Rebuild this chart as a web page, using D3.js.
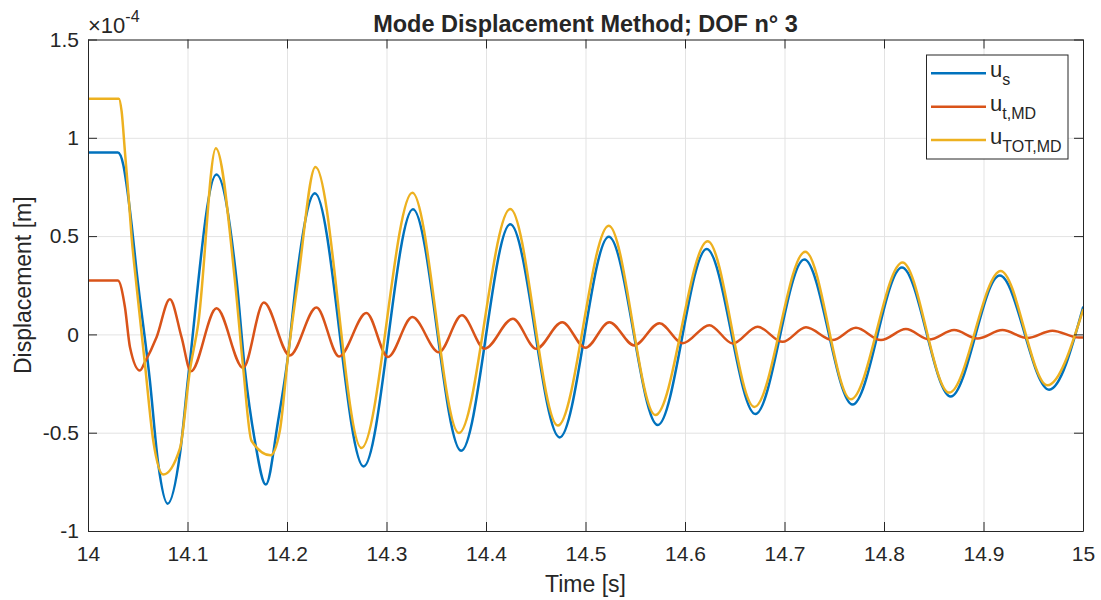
<!DOCTYPE html>
<html><head><meta charset="utf-8">
<script src="https://cdn.jsdelivr.net/npm/d3@7"></script>
<style>
body{margin:0;background:#fff}
text{font-family:"Liberation Sans",Arial,Helvetica,sans-serif;fill:#262626}
</style>
</head><body>
<svg id="chart" width="1101" height="600"></svg>
<script>
// ---- data (values in units of 1e-4 m) ----
const xTicks = [14, 14.1, 14.2, 14.3, 14.4, 14.5, 14.6, 14.7, 14.8, 14.9, 15];
const xTickLabels = ["14","14.1","14.2","14.3","14.4","14.5","14.6","14.7","14.8","14.9","15"];
const yTicks = [-1, -0.5, 0, 0.5, 1, 1.5];
const yTickLabels = ["-1","-0.5","0","0.5","1","1.5"];

const seriesBase = ["u","u","u"];
const seriesSub = ["s","t,MD","TOT,MD"];
const seriesColors = ["#0072BD","#D95319","#EDB120"];

const tS = [14.000,14.030,14.0355,14.0388,14.0439,14.0489,14.0622,14.0706,14.0800,14.0924,14.1007,14.1290,14.1493,14.1576,14.1677,14.1787,14.1911,14.2011,14.2094,14.2280,14.2770,14.3266,14.3750,14.4244,14.4740,14.5234,14.5726,14.6218,14.6707,14.7199,14.7684,14.8180,14.8670,14.9163,14.9659,15.000];
const uS = [0.925,0.925,0.862,0.760,0.556,0.318,-0.235,-0.660,-0.861,-0.609,-0.218,0.813,0.276,-0.175,-0.541,-0.764,-0.439,-0.107,0.276,0.718,-0.672,0.636,-0.592,0.560,-0.524,0.497,-0.461,0.434,-0.405,0.381,-0.357,0.340,-0.316,0.299,-0.281,0.137];

const tT = [14.000,14.030,14.0371,14.0422,14.0522,14.0572,14.0690,14.0823,14.0940,14.1034,14.1292,14.1559,14.1767,14.2028,14.2296,14.2523,14.2798,14.3015,14.3260,14.3527,14.3758,14.3986,14.4270,14.4505,14.4766,14.5000,14.5240,14.5490,14.5743,14.5977,14.6245,14.6479,14.6730,14.6981,14.7216,14.7483,14.7718,14.7969,14.8220,14.8454,14.8705,14.8939,14.9190,14.9441,14.9692,14.9960,15.000];
const uT = [0.274,0.274,0.139,-0.065,-0.184,-0.141,-0.013,0.179,-0.014,-0.188,0.133,-0.170,0.162,-0.107,0.137,-0.112,0.109,-0.115,0.088,-0.091,0.097,-0.073,0.080,-0.073,0.062,-0.068,0.062,-0.056,0.057,-0.045,0.047,-0.046,0.039,-0.038,0.036,-0.029,0.034,-0.029,0.027,-0.026,0.022,-0.021,0.022,-0.018,0.019,-0.016,-0.016];

const tTot = [14.000,14.031,14.0338,14.0371,14.0405,14.0439,14.0489,14.0572,14.0656,14.0756,14.0924,14.1024,14.1108,14.1285,14.1476,14.1559,14.1643,14.1834,14.1928,14.2011,14.2111,14.2286,14.2748,14.3260,14.3728,14.4244,14.4722,14.5234,14.5703,14.6228,14.6697,14.7209,14.7667,14.8186,14.8655,14.9173,14.9642,15.000];
const uTot = [1.199,1.199,1.134,0.930,0.720,0.490,0.241,-0.150,-0.541,-0.713,-0.580,-0.184,0.055,0.947,0.276,-0.167,-0.541,-0.615,-0.490,-0.107,0.276,0.852,-0.578,0.721,-0.502,0.638,-0.464,0.553,-0.410,0.474,-0.369,0.421,-0.330,0.366,-0.296,0.323,-0.259,0.124];

// ---- layout ----
const L = 88, R = 1083, T = 39.5, B = 531;
const svg = d3.select("#chart");
const x = d3.scaleLinear().domain([14, 15]).range([L, R]);
const y = d3.scaleLinear().domain([-1, 1.5]).range([B, T]);

svg.append("rect").attr("x",0).attr("y",0).attr("width",1101).attr("height",600).attr("fill","#fff");

// grid
const grid = svg.append("g").attr("class","grid");
grid.append("g").attr("transform",`translate(0,${B})`)
  .call(d3.axisBottom(x).tickValues(xTicks).tickSize(-(B-T)).tickFormat(""))
  .call(g=>{g.select(".domain").remove(); g.selectAll("line").attr("stroke","#e3e3e3").attr("stroke-width",1);});
grid.append("g").attr("transform",`translate(${L},0)`)
  .call(d3.axisLeft(y).tickValues(yTicks).tickSize(-(R-L)).tickFormat(""))
  .call(g=>{g.select(".domain").remove(); g.selectAll("line").attr("stroke","#e3e3e3").attr("stroke-width",1);});

svg.append("clipPath").attr("id","clip").append("rect").attr("x",L).attr("y",T).attr("width",R-L).attr("height",B-T);

const line = d3.line().x(d=>x(d[0])).y(d=>y(d[1])).curve(d3.curveMonotoneX);
const series = [d3.zip(tS, uS), d3.zip(tT, uT), d3.zip(tTot, uTot)];
svg.append("g").attr("clip-path","url(#clip)")
  .selectAll("path").data(series).join("path")
  .attr("d", line).attr("fill","none")
  .attr("stroke",(d,i)=>seriesColors[i]).attr("stroke-width",2.5)
  .attr("stroke-linejoin","round").attr("stroke-linecap","round");

// axes
const axColor = "#262626";
const styleAxis = g => {
  g.select(".domain").attr("stroke",axColor).attr("stroke-width",1);
  g.selectAll(".tick line").attr("stroke",axColor).attr("stroke-width",1);
  g.selectAll(".tick text").attr("fill",axColor).style("font-size","21px").style("font-family",'"Liberation Sans",Arial,sans-serif');
};
svg.append("g").attr("transform",`translate(0,${B})`)
  .call(d3.axisBottom(x).tickValues(xTicks).tickFormat((d,i)=>xTickLabels[i]).tickSizeInner(-9).tickSizeOuter(0).tickPadding(15))
  .call(styleAxis);
svg.append("g").attr("transform",`translate(0,${T})`)
  .call(d3.axisTop(x).tickValues(xTicks).tickFormat("").tickSizeInner(-9).tickSizeOuter(0))
  .call(styleAxis);
svg.append("g").attr("transform",`translate(${L},0)`)
  .call(d3.axisLeft(y).tickValues(yTicks).tickFormat((d,i)=>yTickLabels[i]).tickSizeInner(-9).tickSizeOuter(0).tickPadding(9))
  .call(styleAxis);
svg.append("g").attr("transform",`translate(${R},0)`)
  .call(d3.axisRight(y).tickValues(yTicks).tickFormat("").tickSizeInner(-9).tickSizeOuter(0))
  .call(styleAxis);

// exponent
const ex = svg.append("text").attr("x",88).attr("y",33).style("font-size","22px").attr("fill",axColor);
ex.append("tspan").text("\u00d710");
ex.append("tspan").attr("dy",-11).style("font-size","16px").text("-4");

// title
svg.append("text").attr("x",(L+R)/2).attr("y",32).attr("text-anchor","middle")
  .style("font-size","23.5px").style("font-weight","bold").attr("fill","#000")
  .text("Mode Displacement Method; DOF n\u00b0 3");

// axis labels
svg.append("text").attr("x",(L+R)/2).attr("y",592).attr("text-anchor","middle")
  .style("font-size","23px").attr("fill",axColor).text("Time [s]");
svg.append("text").attr("transform",`translate(31,${(T+B)/2}) rotate(-90)`).attr("text-anchor","middle")
  .style("font-size","23px").attr("fill",axColor).text("Displacement [m]");

// legend
const lg = svg.append("g");
lg.append("rect").attr("x",926.5).attr("y",55).attr("width",141.5).attr("height",104)
  .attr("fill","#fff").attr("stroke",axColor).attr("stroke-width",1);
const rowY = [73.3, 106.7, 140];
seriesColors.forEach((c,i)=>{
  lg.append("line").attr("x1",931).attr("x2",986).attr("y1",rowY[i]).attr("y2",rowY[i])
    .attr("stroke",c).attr("stroke-width",2.5);
  const t = lg.append("text").attr("x",990).attr("y",rowY[i]+4).style("font-size","22px").attr("fill","#000");
  t.append("tspan").text(seriesBase[i]);
  t.append("tspan").attr("dy",8).style("font-size","16px").text(seriesSub[i]);
});
</script>
</body></html>
